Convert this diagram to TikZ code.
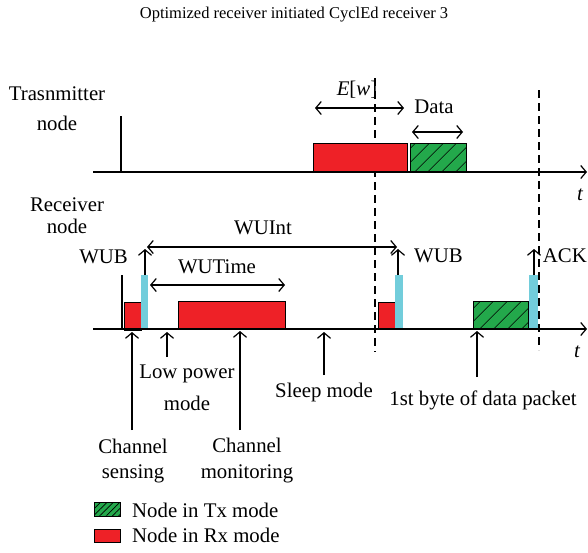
\documentclass[tikz,border=0pt]{standalone}
\usepackage{fontspec}
\setmainfont{Liberation Serif}
\usetikzlibrary{arrows.meta,patterns.meta}
\definecolor{rxred}{HTML}{EE2127}
\definecolor{txgreen}{HTML}{23A84B}
\definecolor{wubcyan}{HTML}{72CDDB}

\begin{document}
\begin{tikzpicture}[x=1pt,y=-1pt,
  >={Straight Barb[length=5.5pt,width=13pt]},
  lbl/.style={font=\fontsize{20.8}{24}\selectfont, inner sep=0pt, anchor=base},
  ttl/.style={font=\fontsize{16.5}{20}\selectfont, inner sep=0pt, anchor=base},
  timeaxis/.style={line width=1.2pt, ->},
  marker/.style={line width=1.2pt},
  span/.style={line width=1.2pt, <->},
  pointer/.style={line width=1.2pt, ->},
  slot/.style={line width=1.2pt, dash pattern=on 8pt off 5pt},
  rxbox/.style={draw=black, line width=1pt, fill=rxred, inner sep=0pt, anchor=south west},
  txbox/.style={draw=black, line width=1pt, inner sep=0pt, anchor=south west,
    preaction={fill=txgreen},
    pattern={Lines[angle=45,distance=10.5pt,line width=0.9pt]}, pattern color=black},
  wubbar/.style={fill=wubcyan, draw=none, inner sep=0pt, anchor=south west},
]
\useasboundingbox (0,0) rectangle (588,552);

% title
\node[ttl] (title) at (294,18) {Optimized receiver initiated CyclEd receiver 3};

% ---------------- transmitter timeline ----------------
\node[lbl] (txname1) at (57,100) {Trasnmitter};
\node[lbl] (txname2) at (57,130) {node};
\coordinate (txstart) at (93,172);
\coordinate (txend) at (587,172);
\coordinate (txtickt) at (121,116);
\coordinate (txtickb) at (121,172);

% dashed slot boundaries
\coordinate (slotAt) at (375,78);
\coordinate (slotAb) at (375,352);
\coordinate (slotBt) at (539,90);
\coordinate (slotBb) at (539,350);
\draw[slot] (slotAt) -- (slotAb);
\draw[slot] (slotBt) -- (slotBb);

\node[rxbox, minimum width=94pt, minimum height=28pt] (txrx) at (313,172) {};
\node[txbox, minimum width=56pt, minimum height=28pt] (txdata) at (410,172) {};
\draw[timeaxis] (txstart) -- (txend);
\draw[marker] (txtickt) -- (txtickb);
\node[lbl, font=\fontsize{20.8}{24}\selectfont\itshape] (txt) at (580,200) {t};

\coordinate (ewl) at (315,108);
\coordinate (ewr) at (404,108);
\draw[span] (ewl) -- (ewr);
\node[lbl] (ewlabel) at (357,95) {\textit{E}[\textit{w}]};

\coordinate (dtl) at (412,132);
\coordinate (dtr) at (463,132);
\draw[span] (dtl) -- (dtr);
\node[lbl] (dtlabel) at (434,113) {Data};

% ---------------- receiver timeline ----------------
\node[lbl] (rxname1) at (67,211) {Receiver};
\node[lbl] (rxname2) at (67,233) {node};
\coordinate (rxstart) at (93,329);
\coordinate (rxend) at (587,329);
\coordinate (rxtickt) at (122,275);
\coordinate (rxtickb) at (122,329);

\node[rxbox, minimum width=17pt, minimum height=28pt] (sense) at (124,331) {};
\node[wubbar, minimum width=7pt, minimum height=54pt] (wub1) at (141,329) {};
\node[rxbox, minimum width=107pt, minimum height=27pt] (monitor) at (178,329) {};
\node[rxbox, minimum width=17pt, minimum height=27pt] (sense2) at (378,330) {};
\node[wubbar, minimum width=8pt, minimum height=54pt] (wub2) at (395,329) {};
\node[txbox, minimum width=55pt, minimum height=27pt] (rxdata) at (473,329) {};
\node[wubbar, minimum width=9pt, minimum height=54pt] (ack) at (529,329) {};

\draw[timeaxis] (rxstart) -- (rxend);
\draw[marker] (rxtickt) -- (rxtickb);
\node[lbl, font=\fontsize{20.8}{24}\selectfont\itshape] (rxt) at (577,357) {t};

% beacon arrows
\coordinate (wub1b) at (145,275);
\coordinate (wub1t) at (145,249);
\draw[pointer] (wub1b) -- (wub1t);
\node[lbl, anchor=base east] (wub1label) at (128,263) {WUB};

\coordinate (wub2b) at (398,275);
\coordinate (wub2t) at (398,249);
\draw[pointer] (wub2b) -- (wub2t);
\node[lbl, anchor=base west] (wub2label) at (414,262) {WUB};

\coordinate (ackb) at (534,275);
\coordinate (ackt) at (534,249);
\draw[pointer] (ackb) -- (ackt);
\node[lbl, anchor=base east] (acklabel) at (587,262) {ACK};

% intervals
\coordinate (wuil) at (147,247);
\coordinate (wuir) at (397,247);
\draw[span] (wuil) -- (wuir);
\node[lbl] (wuilabel) at (263,234) {WUInt};

\coordinate (wutl) at (150,285);
\coordinate (wutr) at (285,285);
\draw[span] (wutl) -- (wutr);
\node[lbl] (wutlabel) at (217,273) {WUTime};

% ---------------- state pointers ----------------
\coordinate (csb) at (132,430);
\coordinate (cst) at (132,332);
\draw[pointer] (csb) -- (cst);
\node[lbl] (cs1) at (133,453) {Channel};
\node[lbl] (cs2) at (133,478) {sensing};

\coordinate (lpb) at (167,357);
\coordinate (lpt) at (167,332);
\draw[pointer] (lpb) -- (lpt);
\node[lbl] (lp1) at (187,378) {Low power};
\node[lbl] (lp2) at (187,410) {mode};

\coordinate (cmb) at (240,430);
\coordinate (cmt) at (240,331);
\draw[pointer] (cmb) -- (cmt);
\node[lbl] (cm1) at (247,452) {Channel};
\node[lbl] (cm2) at (247,478) {monitoring};

\coordinate (slb) at (324,375);
\coordinate (slt) at (324,332);
\draw[pointer] (slb) -- (slt);
\node[lbl] (sl) at (324,397) {Sleep mode};

\coordinate (fbb) at (477,377);
\coordinate (fbt) at (477,331);
\draw[pointer] (fbb) -- (fbt);
\node[lbl] (fb) at (483,405) {1st byte of data packet};

% ---------------- legend ----------------
\node[txbox, minimum width=26pt, minimum height=14pt,
  pattern={Lines[angle=45,distance=4.5pt,line width=0.7pt]}] (legtx) at (94,517) {};
\node[lbl, anchor=base west] (legtxlabel) at (132,517) {Node in Tx mode};
\node[rxbox, minimum width=26pt, minimum height=13pt] (legrx) at (94,543) {};
\node[lbl, anchor=base west] (legrxlabel) at (132,542) {Node in Rx mode};
\end{tikzpicture}
\end{document}
